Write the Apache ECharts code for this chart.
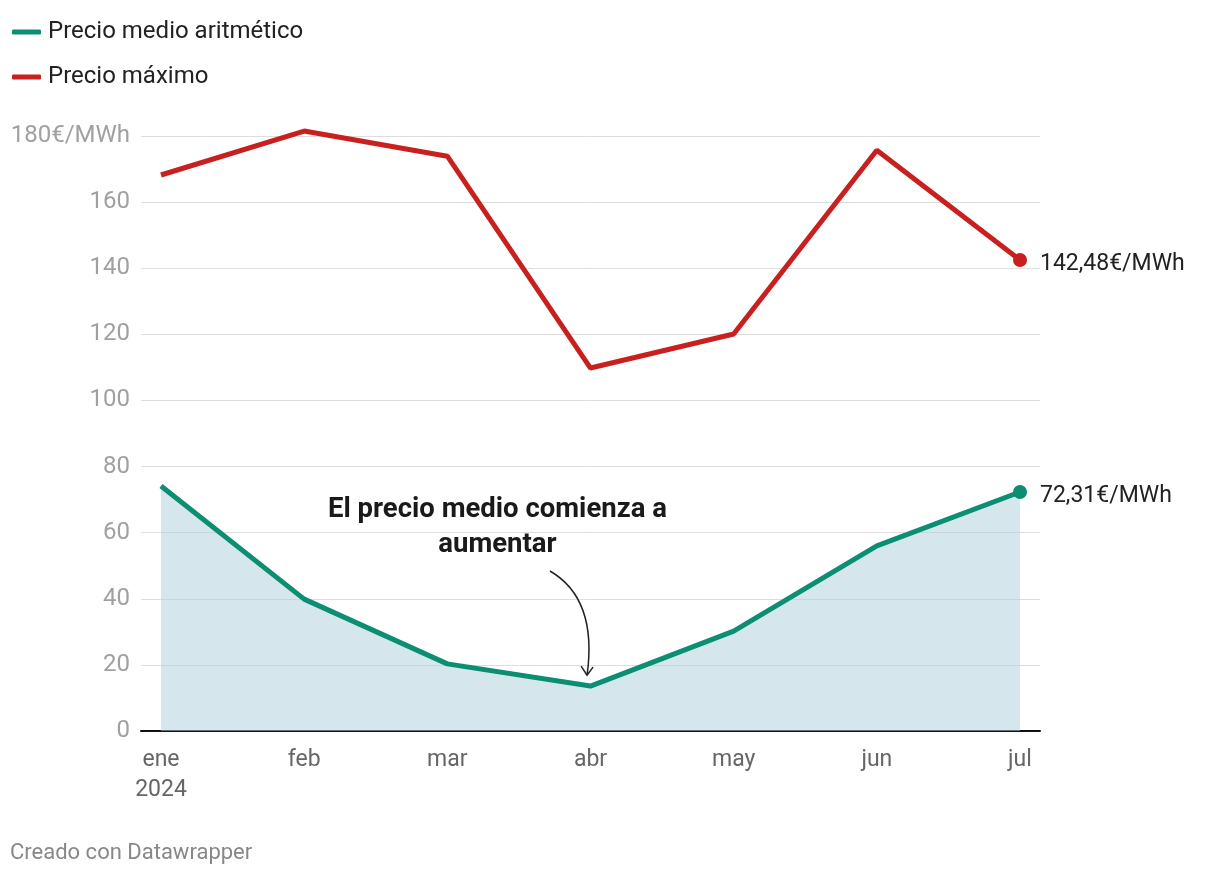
<!DOCTYPE html>
<html><head><meta charset="utf-8">
<script src="https://cdn.jsdelivr.net/npm/echarts@6/dist/echarts.min.js"></script>
<style>html,body{margin:0;padding:0;background:#fff}#c{width:1220px;height:878px}</style>
</head><body><div id="c"></div>
<script>
const categories = ['ene', 'feb', 'mar', 'abr', 'may', 'jun', 'jul'];
const precioMedio = [74.1, 39.9, 20.3, 13.6, 30.2, 56.0, 72.31];
const precioMaximo = [168.2, 181.5, 173.9, 109.8, 120.1, 175.7, 142.48];
const yTicks = [0, 20, 40, 60, 80, 100, 120, 140, 160, 180];
const endLabels = ['72,31€/MWh', '142,48€/MWh'];

const green = '#0b8e72', red = '#c8201f';
const pad = 0.1397;
const toPairs = arr => arr.map((v, i) => [i, v]);
const lastIdx = categories.length - 1;

const chart = echarts.init(document.getElementById('c'));
const footer = {type: 'text', left: 10, top: 842, style: {text: 'Creado con Datawrapper', fontSize: 22, fill: '#888', fontFamily: 'Roboto'}};
const option = {
  animation: false,
  textStyle: {fontFamily: 'Roboto'},
  grid: {left: 141, right: 180, top: 136, bottom: 147},
  legend: {
    orient: 'vertical', left: 7, top: 15, itemGap: 21,
    icon: 'roundRect', itemWidth: 29, itemHeight: 5, itemStyle: {borderWidth: 0},
    textStyle: {fontSize: 24, color: '#222', fontFamily: 'Roboto', padding: [0,0,0,2]},
    data: ['Precio medio aritmético', 'Precio máximo']
  },
  xAxis: {
    type: 'value', min: -pad, max: lastIdx + pad,
    splitLine: {show: false},
    axisLine: {show: true, onZero: true, lineStyle: {color: '#111', width: 2}},
    axisTick: {show: false},
    axisLabel: {
      customValues: categories.map((c, i) => i),
      fontSize: 23, color: '#666', margin: 14, lineHeight: 30,
      formatter: v => { const i = Math.round(v); return i === 0 ? categories[0] + '\n2024' : categories[i]; }
    }
  },
  yAxis: {
    type: 'value', min: 0, max: 180, interval: 20,
    axisLine: {show: false}, axisTick: {show: false},
    splitLine: {lineStyle: {color: '#dedede', width: 1}},
    axisLabel: {
      fontSize: 24, color: '#a0a0a0', margin: 11,
      formatter: v => v === yTicks[yTicks.length - 1] ? v + '€/MWh' : String(v)
    }
  },
  series: [
    {
      name: 'Precio medio aritmético', type: 'line', data: toPairs(precioMedio), clip: false,
      color: green, lineStyle: {width: 5, color: green},
      areaStyle: {color: 'rgba(171,205,217,0.5)', opacity: 1, origin: 0},
      symbol: 'circle', showAllSymbol: true,
      symbolSize: (v, p) => p.dataIndex === lastIdx ? 14 : 0,
      itemStyle: {color: green},
      endLabel: {show: true, formatter: endLabels[0], fontSize: 23, color: '#222', distance: 20, offset: [0, 4]},
      z: 3
    },
    {
      name: 'Precio máximo', type: 'line', data: toPairs(precioMaximo), clip: false,
      color: red, lineStyle: {width: 5, color: red},
      symbol: 'circle', showAllSymbol: true,
      symbolSize: (v, p) => p.dataIndex === lastIdx ? 14 : 0,
      itemStyle: {color: red},
      endLabel: {show: true, formatter: endLabels[1], fontSize: 23, color: '#222', distance: 20, offset: [0, 4]},
      z: 4
    }
  ],
  graphic: [footer]
};
chart.setOption(option);

// Annotation placed via data coordinates
const p = (x, y) => chart.convertToPixel({gridIndex: 0}, [x, y]);
const tPos = p(2.35, 72);
const a0 = p(2.717, 48.4), a1 = p(2.976, 16.9), ctrl = p(3.05, 40);
chart.setOption({
  graphic: [
    footer,
    {type: 'text', x: tPos[0], y: tPos[1], z: 10,
     style: {text: 'El precio medio comienza a\naumentar', fontSize: 27.5, fontWeight: 'bold', fill: '#1a1a1a', align: 'center', verticalAlign: 'top', lineHeight: 35, fontFamily: 'Roboto'}},
    {type: 'bezierCurve', z: 10, shape: {x1: a0[0], y1: a0[1], x2: a1[0], y2: a1[1], cpx1: ctrl[0], cpy1: ctrl[1]},
     style: {stroke: '#222', lineWidth: 1.5, fill: null}},
    {type: 'polyline', z: 10, shape: {points: [[a1[0]-6, a1[1]-9], [a1[0], a1[1]], [a1[0]+6, a1[1]-8]]},
     style: {stroke: '#222', lineWidth: 1.5, fill: null}}
  ]
});
</script></body></html>
